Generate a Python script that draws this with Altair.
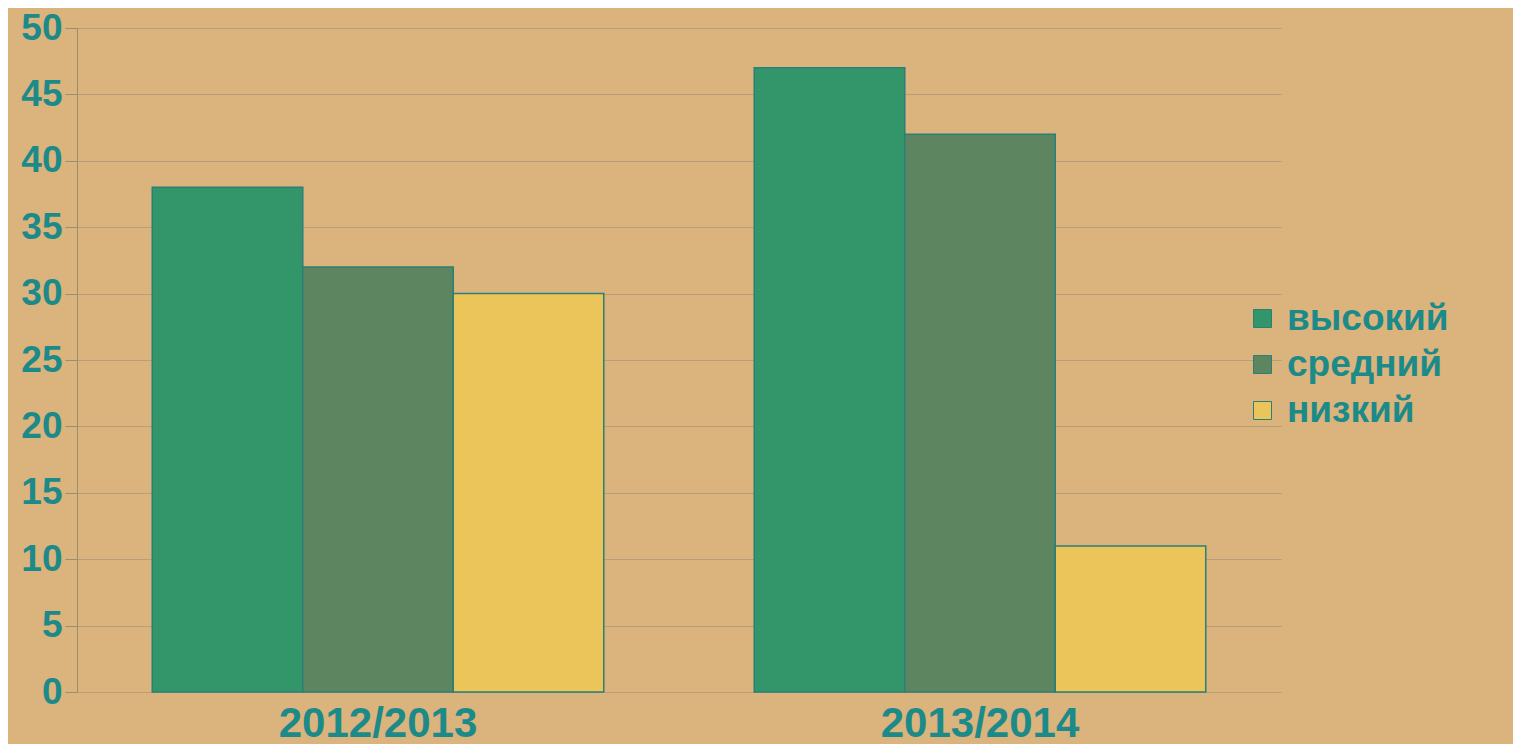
import altair as alt
import pandas as pd

years = ["2012/2013", "2013/2014"]
levels = ["высокий", "средний", "низкий"]
values_2012 = [38, 32, 30]
values_2013 = [47, 42, 11]
colors = ["#32966a", "#5d8660", "#ebc45a"]

rows = []
for yr, vals in zip(years, [values_2012, values_2013]):
    for lvl, v in zip(levels, vals):
        rows.append({"year": yr, "level": lvl, "value": v})
df = pd.DataFrame(rows)

teal = "#1c8a88"
font = "Liberation Sans"

chart = alt.Chart(df).mark_bar(stroke="#2a7f78", strokeWidth=1.5).encode(
    x=alt.X("year:N", sort=years, title=None,
            scale=alt.Scale(paddingInner=0.25, paddingOuter=0.125),
            axis=alt.Axis(labelAngle=0, labelFont=font, labelFontSize=42,
                          labelFontWeight="bold", labelColor=teal, ticks=False,
                          domain=False, labelPadding=44,
                          labelBaseline="alphabetic", labelLimit=600)),
    xOffset=alt.XOffset("level:N", sort=levels),
    y=alt.Y("value:Q", title=None,
            scale=alt.Scale(domain=[0, 50], nice=False),
            axis=alt.Axis(values=list(range(0, 55, 5)), labelFont=font,
                          labelFontSize=37, labelFontWeight="bold",
                          labelColor=teal, tickSize=12, tickColor="#9a8d76",
                          domainColor="#9a8d76", gridColor="#9a8d76",
                          gridOpacity=0.55, labelPadding=3)),
    color=alt.Color("level:N", sort=levels,
                    scale=alt.Scale(domain=levels, range=colors),
                    legend=alt.Legend(title=None, orient="none", legendX=1167,
                                      legendY=272, symbolType="square",
                                      symbolSize=324, symbolStrokeColor="#2a7f78",
                                      symbolStrokeWidth=1, symbolOpacity=1,
                                      labelFont=font, labelFontSize=37,
                                      labelFontWeight="bold", labelColor=teal,
                                      rowPadding=8, labelOffset=6,
                                      labelLimit=400)),
).properties(
    width=1204, height=664,
    autosize=alt.AutoSizeParams(type="none"),
    padding={"left": 69, "top": 20, "right": 232, "bottom": 52},
    background="#dab37d",
).configure_view(stroke=None, fill="#dab37d")

chart.save("out.html", embed_options={"renderer": "svg", "actions": False})
